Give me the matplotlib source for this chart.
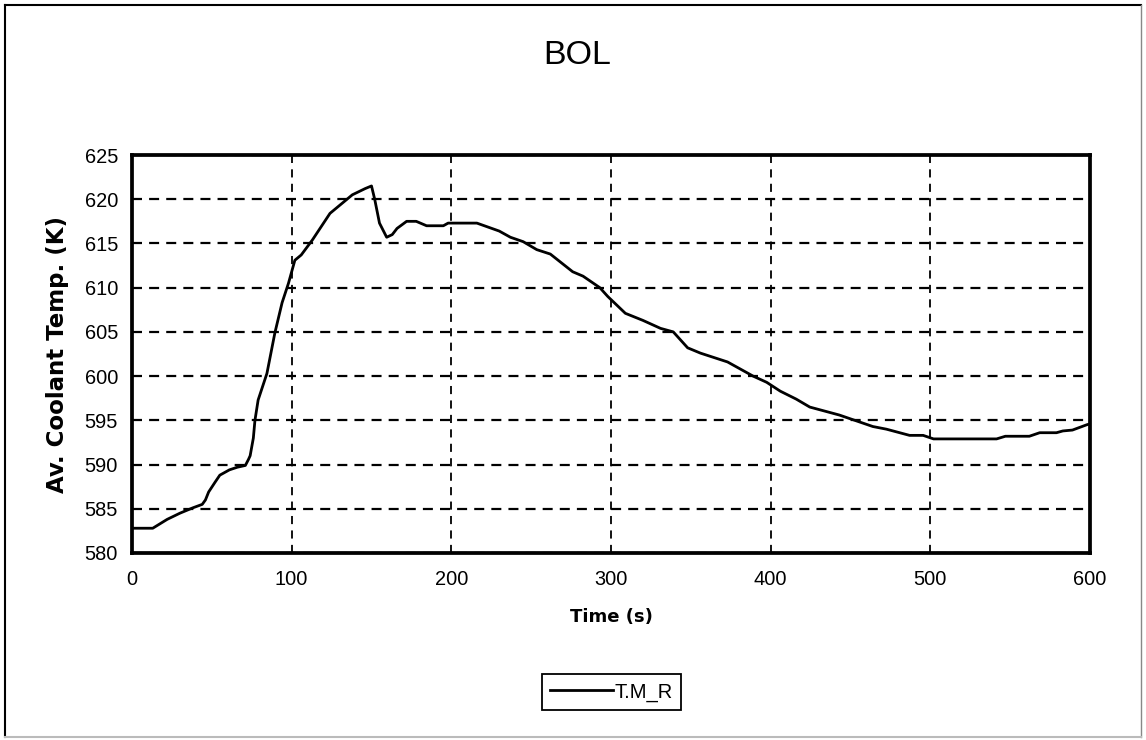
import matplotlib
matplotlib.use('Agg')
import matplotlib.pyplot as plt
from matplotlib.lines import Line2D
import numpy as np

# Dados (BOL)
tempo = [0, 13, 22, 30, 38, 44, 46, 48, 52, 55, 61, 66, 71, 73, 74, 76, 77, 79,
         84.5, 89.5, 94, 98, 102, 106, 113, 124, 138, 146, 150, 152, 155, 159.5,
         163, 166, 172, 178, 184.5, 195, 198, 216, 230, 237, 245, 253.5, 262,
         276, 282.5, 293, 298, 309, 320, 331, 339, 348, 356, 373, 380, 389,
         397.5, 406, 416, 424.5, 443, 464, 472.5, 487, 495.5, 502, 541.5, 547,
         562, 568.5, 579, 583, 589, 598, 600]
temp_m = [582.8, 582.8, 583.8, 584.5, 585.1, 585.5, 586.0, 586.9, 588.0, 588.8,
          589.4, 589.7, 589.9, 590.6, 591.0, 593.0, 595.0, 597.3,
          600.3, 604.9, 608.3, 610.5, 613.1, 613.7, 615.4, 618.4, 620.5, 621.2,
          621.5, 620.0, 617.3, 615.7,
          616.0, 616.7, 617.5, 617.5, 617.0, 617.0, 617.3, 617.3, 616.4, 615.7,
          615.2, 614.3, 613.8,
          611.8, 611.3, 610.0, 609.0, 607.1, 606.3, 605.4, 605.0, 603.2, 602.6,
          601.6, 600.9, 600.0,
          599.3, 598.3, 597.4, 596.5, 595.6, 594.3, 594.0, 593.3, 593.3, 592.9,
          592.9, 593.2,
          593.2, 593.6, 593.6, 593.8, 593.9, 594.5, 594.6]

titulo = 'BOL'
serie = 'T.M_R'
x_ticks = [0, 100, 200, 300, 400, 500, 600]
y_ticks = [580, 585, 590, 595, 600, 605, 610, 615, 620, 625]


def main():
    plt.rcParams['font.family'] = ['Liberation Sans', 'DejaVu Sans']
    W, H = 1146, 740
    fig = plt.figure(figsize=(W / 100, H / 100), dpi=100)
    fig.patch.set_facecolor('white')

    # posição do gráfico em pixels: x 132-1090, y 155-553
    ax = fig.add_axes([132 / W, 1 - 553 / H, 958 / W, 398 / H])
    ax.plot(tempo, temp_m, color='black', lw=2.0, label=serie)

    ax.set_xlim(0, 600)
    ax.set_ylim(580, 625)
    ax.set_xticks(x_ticks)
    ax.set_yticks(y_ticks)
    ax.tick_params(axis='both', length=0, labelsize=14.4)
    ax.tick_params(axis='y', pad=10)
    ax.tick_params(axis='x', pad=12)

    # grade tracejada (horizontal mais grossa que a vertical)
    ax.yaxis.grid(True, color='black', lw=1.6, linestyle=(0, (4.5, 3.2)))
    ax.xaxis.grid(True, color='black', lw=1.3, linestyle=(0, (4.5, 3.5)))
    ax.set_axisbelow(True)
    for s in ax.spines.values():
        s.set_linewidth(2.7)
        s.set_color('black')

    ax.set_xlabel('Time (s)', family='DejaVu Sans', weight='bold', fontsize=13)
    ax.xaxis.set_label_coords(0.5, -0.138)
    ax.set_ylabel('Av. Coolant Temp. (K)', family='DejaVu Sans', weight='bold',
                  fontsize=16.5)
    ax.yaxis.set_label_coords(-0.066, 0.5)

    fig.text(577 / W, 1 - 56 / H, titulo, ha='center', va='center', fontsize=24.5)

    leg = fig.legend(loc='center', bbox_to_anchor=(611.5 / W, 1 - 692 / H),
                     fontsize=14.5, frameon=True, fancybox=False, framealpha=1,
                     edgecolor='black', handlelength=3.1, handletextpad=0.1,
                     borderpad=0.4, borderaxespad=0)
    leg.get_frame().set_linewidth(1.3)

    # moldura externa
    fig.add_artist(Line2D([4.5 / W, 4.5 / W], [1 - 5 / H, 1 - 737 / H],
                          color='black', lw=1.5))
    fig.add_artist(Line2D([4.5 / W, 1141 / W], [1 - 5 / H, 1 - 5 / H],
                          color='black', lw=1.5))
    fig.add_artist(Line2D([1141 / W, 1141 / W], [1 - 5 / H, 1 - 737 / H],
                          color='#888888', lw=1.0))
    fig.add_artist(Line2D([4.5 / W, 1141 / W], [1 - 737 / H, 1 - 737 / H],
                          color='#bbbbbb', lw=1.5))

    fig.savefig('out.png', dpi=100)


if __name__ == '__main__':
    main()
